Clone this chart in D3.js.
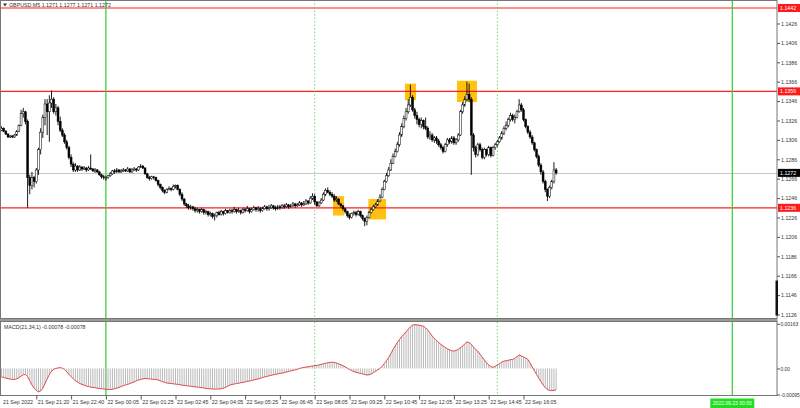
<!DOCTYPE html>
<html><head><meta charset="utf-8">
<script src="https://cdn.jsdelivr.net/npm/d3@7"></script>
<style>body{margin:0;background:#fff;} svg{display:block;}</style>
</head><body><svg id="c" width="800" height="408"></svg>
<script>
// ---- DATA (GBPUSD M5, 21 Sep 20:00 -> 22 Sep 17:15) ----
const opens = [
1.1316,1.1318,1.1315,1.1312,1.1309,1.1310,1.1309,1.1311,1.1315,1.1321,
1.1333,1.1335,1.1325,1.1267,1.1259,1.1267,1.1263,1.1275,1.1296,1.1314,
1.1329,1.1343,1.1335,1.1344,1.1348,1.1335,1.1339,1.1325,1.1316,1.1311,
1.1304,1.1298,1.1288,1.1281,1.1275,1.1279,1.1275,1.1278,1.1276,1.1277,
1.1275,1.1277,1.1276,1.1274,1.1275,1.1273,1.1270,1.1268,1.1267,1.1267,
1.1269,1.1271,1.1274,1.1273,1.1275,1.1273,1.1274,1.1275,1.1274,1.1276,
1.1273,1.1275,1.1276,1.1275,1.1278,1.1279,1.1277,1.1271,1.1267,1.1266,
1.1268,1.1267,1.1264,1.1260,1.1257,1.1254,1.1252,1.1255,1.1256,1.1255,
1.1258,1.1259,1.1255,1.1250,1.1245,1.1240,1.1238,1.1236,1.1237,1.1235,
1.1233,1.1234,1.1232,1.1234,1.1231,1.1232,1.1229,1.1230,1.1227,1.1228,
1.1231,1.1229,1.1232,1.1230,1.1233,1.1231,1.1233,1.1232,1.1234,1.1232,
1.1233,1.1231,1.1234,1.1233,1.1235,1.1232,1.1234,1.1236,1.1234,1.1235,
1.1233,1.1235,1.1237,1.1235,1.1236,1.1238,1.1236,1.1235,1.1237,1.1236,
1.1238,1.1237,1.1239,1.1237,1.1238,1.1240,1.1238,1.1239,1.1241,1.1239,
1.1240,1.1243,1.1241,1.1246,1.1248,1.1242,1.1238,1.1241,1.1244,1.1250,
1.1254,1.1252,1.1250,1.1248,1.1244,1.1245,1.1240,1.1238,1.1235,1.1232,
1.1228,1.1226,1.1230,1.1231,1.1229,1.1232,1.1228,1.1225,1.1222,1.1226,
1.1231,1.1234,1.1237,1.1239,1.1243,1.1247,1.1255,1.1263,1.1269,1.1275,
1.1282,1.1289,1.1294,1.1301,1.1311,1.1320,1.1328,1.1335,1.1342,1.1350,
1.1337,1.1331,1.1327,1.1322,1.1326,1.1320,1.1318,1.1309,1.1311,1.1306,
1.1308,1.1305,1.1301,1.1298,1.1294,1.1301,1.1306,1.1304,1.1308,1.1303,
1.1306,1.1311,1.1335,1.1342,1.1348,1.1353,1.1348,1.1311,1.1298,1.1291,
1.1301,1.1296,1.1288,1.1296,1.1291,1.1298,1.1290,1.1298,1.1301,1.1304,
1.1308,1.1313,1.1318,1.1321,1.1327,1.1331,1.1327,1.1329,1.1335,1.1342,
1.1337,1.1327,1.1320,1.1314,1.1309,1.1303,1.1296,1.1289,1.1280,1.1273,
1.1263,1.1255,1.1248,1.1257,1.1263,1.1275];
const highs = [
1.1320,1.1319,1.1316,1.1313,1.1311,1.1311,1.1312,1.1316,1.1322,1.1337,
1.1339,1.1336,1.1327,1.1270,1.1273,1.1269,1.1277,1.1298,1.1318,1.1332,
1.1348,1.1348,1.1352,1.1357,1.1350,1.1343,1.1341,1.1330,1.1318,1.1313,
1.1306,1.1300,1.1291,1.1283,1.1282,1.1280,1.1280,1.1279,1.1279,1.1278,
1.1279,1.1291,1.1277,1.1277,1.1276,1.1274,1.1271,1.1270,1.1269,1.1270,
1.1273,1.1275,1.1276,1.1277,1.1276,1.1276,1.1277,1.1276,1.1278,1.1277,
1.1277,1.1278,1.1277,1.1279,1.1281,1.1280,1.1278,1.1272,1.1269,1.1269,
1.1269,1.1268,1.1265,1.1261,1.1258,1.1255,1.1256,1.1258,1.1257,1.1260,
1.1260,1.1260,1.1256,1.1252,1.1246,1.1241,1.1240,1.1239,1.1238,1.1237,
1.1236,1.1235,1.1236,1.1235,1.1234,1.1233,1.1232,1.1231,1.1230,1.1232,
1.1233,1.1234,1.1233,1.1235,1.1234,1.1235,1.1235,1.1237,1.1235,1.1236,
1.1234,1.1236,1.1236,1.1238,1.1236,1.1236,1.1238,1.1237,1.1238,1.1237,
1.1237,1.1239,1.1238,1.1239,1.1240,1.1239,1.1238,1.1239,1.1239,1.1240,
1.1240,1.1241,1.1240,1.1240,1.1242,1.1241,1.1241,1.1243,1.1242,1.1243,
1.1245,1.1244,1.1248,1.1251,1.1250,1.1243,1.1243,1.1246,1.1252,1.1256,
1.1257,1.1254,1.1252,1.1250,1.1248,1.1246,1.1241,1.1239,1.1236,1.1233,
1.1230,1.1231,1.1233,1.1233,1.1234,1.1233,1.1229,1.1226,1.1228,1.1233,
1.1236,1.1239,1.1241,1.1245,1.1250,1.1257,1.1265,1.1272,1.1278,1.1286,
1.1292,1.1297,1.1304,1.1314,1.1323,1.1331,1.1339,1.1348,1.1363,1.1352,
1.1339,1.1335,1.1329,1.1329,1.1327,1.1329,1.1320,1.1315,1.1313,1.1310,
1.1310,1.1307,1.1303,1.1300,1.1303,1.1308,1.1308,1.1310,1.1310,1.1308,
1.1313,1.1337,1.1345,1.1351,1.1366,1.1364,1.1350,1.1313,1.1300,1.1303,
1.1303,1.1298,1.1298,1.1297,1.1300,1.1299,1.1300,1.1303,1.1306,1.1310,
1.1315,1.1320,1.1325,1.1329,1.1334,1.1333,1.1332,1.1337,1.1348,1.1344,
1.1339,1.1328,1.1321,1.1316,1.1311,1.1304,1.1297,1.1291,1.1282,1.1275,
1.1265,1.1256,1.1259,1.1265,1.1283,1.1277];
const lows = [
1.1315,1.1314,1.1311,1.1308,1.1308,1.1308,1.1308,1.1310,1.1314,1.1320,
1.1329,1.1322,1.1236,1.1250,1.1255,1.1257,1.1261,1.1270,1.1291,1.1308,
1.1321,1.1311,1.1304,1.1339,1.1333,1.1331,1.1321,1.1314,1.1309,1.1302,
1.1296,1.1286,1.1278,1.1273,1.1273,1.1273,1.1274,1.1274,1.1275,1.1273,
1.1274,1.1275,1.1273,1.1272,1.1272,1.1269,1.1266,1.1265,1.1264,1.1266,
1.1268,1.1270,1.1271,1.1272,1.1272,1.1272,1.1273,1.1273,1.1273,1.1272,
1.1272,1.1274,1.1273,1.1274,1.1277,1.1276,1.1270,1.1266,1.1264,1.1265,
1.1265,1.1263,1.1258,1.1255,1.1252,1.1250,1.1251,1.1254,1.1253,1.1254,
1.1256,1.1254,1.1248,1.1243,1.1238,1.1236,1.1234,1.1234,1.1233,1.1231,
1.1231,1.1230,1.1231,1.1229,1.1229,1.1227,1.1227,1.1225,1.1223,1.1226,
1.1228,1.1228,1.1228,1.1229,1.1230,1.1230,1.1230,1.1231,1.1230,1.1231,
1.1229,1.1230,1.1231,1.1232,1.1230,1.1231,1.1233,1.1232,1.1232,1.1231,
1.1232,1.1234,1.1233,1.1233,1.1235,1.1234,1.1233,1.1234,1.1234,1.1235,
1.1235,1.1236,1.1235,1.1236,1.1237,1.1236,1.1237,1.1238,1.1237,1.1238,
1.1239,1.1239,1.1240,1.1244,1.1239,1.1237,1.1237,1.1240,1.1243,1.1248,
1.1251,1.1248,1.1246,1.1242,1.1242,1.1239,1.1236,1.1233,1.1230,1.1226,
1.1224,1.1225,1.1228,1.1227,1.1228,1.1226,1.1223,1.1217,1.1218,1.1225,
1.1230,1.1233,1.1236,1.1238,1.1242,1.1246,1.1254,1.1262,1.1268,1.1274,
1.1281,1.1288,1.1293,1.1299,1.1309,1.1318,1.1326,1.1333,1.1340,1.1335,
1.1328,1.1322,1.1319,1.1318,1.1317,1.1316,1.1307,1.1306,1.1304,1.1303,
1.1302,1.1299,1.1296,1.1292,1.1293,1.1299,1.1302,1.1302,1.1301,1.1301,
1.1304,1.1310,1.1333,1.1340,1.1346,1.1345,1.1270,1.1294,1.1288,1.1289,
1.1294,1.1286,1.1286,1.1289,1.1289,1.1288,1.1289,1.1296,1.1299,1.1303,
1.1306,1.1311,1.1316,1.1319,1.1325,1.1325,1.1323,1.1328,1.1334,1.1335,
1.1325,1.1318,1.1312,1.1307,1.1301,1.1294,1.1287,1.1278,1.1270,1.1261,
1.1252,1.1243,1.1246,1.1255,1.1261,1.1270];
const closes = [
1.1318,1.1315,1.1312,1.1309,1.1310,1.1309,1.1311,1.1315,1.1321,1.1333,
1.1335,1.1325,1.1267,1.1259,1.1267,1.1263,1.1275,1.1296,1.1314,1.1329,
1.1343,1.1335,1.1344,1.1348,1.1335,1.1339,1.1325,1.1316,1.1311,1.1304,
1.1298,1.1288,1.1281,1.1275,1.1279,1.1275,1.1278,1.1276,1.1277,1.1275,
1.1277,1.1276,1.1274,1.1275,1.1273,1.1270,1.1268,1.1267,1.1267,1.1269,
1.1271,1.1274,1.1273,1.1275,1.1273,1.1274,1.1275,1.1274,1.1276,1.1273,
1.1275,1.1276,1.1275,1.1278,1.1279,1.1277,1.1271,1.1267,1.1266,1.1268,
1.1267,1.1264,1.1260,1.1257,1.1254,1.1252,1.1255,1.1256,1.1255,1.1258,
1.1259,1.1255,1.1250,1.1245,1.1240,1.1238,1.1236,1.1237,1.1235,1.1233,
1.1234,1.1232,1.1234,1.1231,1.1232,1.1229,1.1230,1.1227,1.1228,1.1231,
1.1229,1.1232,1.1230,1.1233,1.1231,1.1233,1.1232,1.1234,1.1232,1.1233,
1.1231,1.1234,1.1233,1.1235,1.1232,1.1234,1.1236,1.1234,1.1235,1.1233,
1.1235,1.1237,1.1235,1.1236,1.1238,1.1236,1.1235,1.1237,1.1236,1.1238,
1.1237,1.1239,1.1237,1.1238,1.1240,1.1238,1.1239,1.1241,1.1239,1.1240,
1.1243,1.1241,1.1246,1.1248,1.1242,1.1238,1.1241,1.1244,1.1250,1.1254,
1.1252,1.1250,1.1248,1.1244,1.1245,1.1240,1.1238,1.1235,1.1232,1.1228,
1.1226,1.1230,1.1231,1.1229,1.1232,1.1228,1.1225,1.1222,1.1226,1.1231,
1.1234,1.1237,1.1239,1.1243,1.1247,1.1255,1.1263,1.1269,1.1275,1.1282,
1.1289,1.1294,1.1301,1.1311,1.1320,1.1328,1.1335,1.1342,1.1350,1.1337,
1.1331,1.1327,1.1322,1.1326,1.1320,1.1318,1.1309,1.1311,1.1306,1.1308,
1.1305,1.1301,1.1298,1.1294,1.1301,1.1306,1.1304,1.1308,1.1303,1.1306,
1.1311,1.1335,1.1342,1.1348,1.1353,1.1348,1.1311,1.1298,1.1291,1.1301,
1.1296,1.1288,1.1296,1.1291,1.1298,1.1290,1.1298,1.1301,1.1304,1.1308,
1.1313,1.1318,1.1321,1.1327,1.1331,1.1327,1.1329,1.1335,1.1342,1.1337,
1.1327,1.1320,1.1314,1.1309,1.1303,1.1296,1.1289,1.1280,1.1273,1.1263,
1.1255,1.1248,1.1257,1.1263,1.1275,1.1272];
const macdValues = [
-0.00031,-0.00033,-0.00035,-0.00037,-0.00039,-0.00040,-0.00040,-0.00038,-0.00034,-0.00028,
-0.00023,-0.00022,-0.00030,-0.00045,-0.00060,-0.00072,-0.00080,-0.00085,-0.00082,-0.00072,
-0.00055,-0.00038,-0.00022,-0.00010,-0.00003,0.00000,0.00002,0.00003,0.00001,-0.00004,
-0.00012,-0.00022,-0.00030,-0.00038,-0.00045,-0.00050,-0.00055,-0.00058,-0.00061,-0.00064,
-0.00066,-0.00068,-0.00069,-0.00070,-0.00072,-0.00073,-0.00074,-0.00075,-0.00076,-0.00077,
-0.00077,-0.00076,-0.00074,-0.00072,-0.00069,-0.00066,-0.00063,-0.00060,-0.00058,-0.00055,
-0.00052,-0.00049,-0.00045,-0.00042,-0.00040,-0.00038,-0.00037,-0.00037,-0.00038,-0.00039,
-0.00040,-0.00040,-0.00042,-0.00045,-0.00048,-0.00051,-0.00053,-0.00054,-0.00055,-0.00056,
-0.00057,-0.00058,-0.00059,-0.00061,-0.00062,-0.00063,-0.00064,-0.00065,-0.00066,-0.00067,
-0.00068,-0.00069,-0.00070,-0.00071,-0.00073,-0.00074,-0.00074,-0.00075,-0.00075,-0.00075,
-0.00075,-0.00074,-0.00072,-0.00069,-0.00065,-0.00061,-0.00058,-0.00057,-0.00055,-0.00054,
-0.00052,-0.00051,-0.00049,-0.00047,-0.00046,-0.00044,-0.00042,-0.00040,-0.00038,-0.00036,
-0.00033,-0.00031,-0.00029,-0.00027,-0.00025,-0.00023,-0.00021,-0.00020,-0.00018,-0.00017,
-0.00015,-0.00013,-0.00011,-0.00009,-0.00007,-0.00005,-0.00003,0.00000,0.00002,0.00004,
0.00005,0.00006,0.00008,0.00009,0.00010,0.00011,0.00013,0.00015,0.00017,0.00019,
0.00021,0.00022,0.00023,0.00022,0.00020,0.00017,0.00014,0.00010,0.00006,0.00001,
-0.00004,-0.00008,-0.00011,-0.00014,-0.00016,-0.00018,-0.00020,-0.00022,-0.00024,-0.00023,
-0.00020,-0.00015,-0.00010,-0.00005,0.00000,0.00008,0.00018,0.00028,0.00040,0.00054,
0.00069,0.00082,0.00095,0.00106,0.00116,0.00124,0.00134,0.00143,0.00152,0.00158,
0.00160,0.00159,0.00158,0.00156,0.00154,0.00148,0.00140,0.00130,0.00118,0.00110,
0.00102,0.00095,0.00088,0.00082,0.00077,0.00072,0.00068,0.00065,0.00063,0.00066,
0.00070,0.00076,0.00082,0.00090,0.00097,0.00094,0.00088,0.00078,0.00070,0.00063,
0.00052,0.00042,0.00031,0.00021,0.00013,0.00007,0.00004,0.00008,0.00013,0.00018,
0.00023,0.00027,0.00028,0.00030,0.00032,0.00033,0.00037,0.00043,0.00049,0.00046,
0.00042,0.00038,0.00033,0.00020,0.00006,-0.00008,-0.00022,-0.00035,-0.00048,-0.00060,
-0.00070,-0.00077,-0.00080,-0.00081,-0.00080,-0.00078];
const timeTickBars = [0,16,32,48,64,80,96,112,128,144,160,176,192,208,224,240];
const timeLabels = ["21 Sep 2022","21 Sep 21:20","21 Sep 22:40","22 Sep 00:05","22 Sep 01:25",
  "22 Sep 02:45","22 Sep 04:05","22 Sep 05:25","22 Sep 06:45","22 Sep 08:05","22 Sep 09:25",
  "22 Sep 10:45","22 Sep 12:05","22 Sep 13:25","22 Sep 14:45","22 Sep 16:05"];
const priceTicks = [1.1426,1.1406,1.1386,1.1366,1.1346,1.1326,1.1306,1.1286,1.1266,1.1246,1.1226,1.1206,1.1186,1.1166,1.1146,1.1126];
const levelPrices = [1.1442,1.1356,1.1236];
const bidPrice = 1.1272;
const macdTicks = [0.00163,0,-0.00095];
const macdTickLabels = ["0.00163","0.00","-0.00095"];
const daySeparatorBars = [48,336];
const sessionBars = [144,228];
const dayLabel = "2022.09.23 00:00";
// highlighted zones: [bar from, bar to, price top, price bottom]
const zones = [[152.4,157.5,1.1248,1.1228],[168.7,176.8,1.1245,1.1224],[185.5,190.6,1.1364,1.1347],[209.4,218.6,1.1367,1.1345]];
const titleText = "GBPUSD,M5  1.1271 1.1277 1.1271 1.1272";
const macdTitle = "MACD(21,34,1) -0.00078 -0.00078";

// ---- DRAWING ----
const svg = d3.select("#c");
const FONT = "'Liberation Sans', Arial, sans-serif";
const FS = 5.3;
const R = 777;           // right edge of plot panels
const mainTop = 0.5, mainBot = 318.5, macdTop = 321.5, macdBot = 395.5;

const x = d3.scaleLinear().domain([0,336]).range([1.5,732.3]);
const y = d3.scaleLinear().domain([1.1126,1.1426]).range([314.5,23.5]);
const ym = d3.scaleLinear().domain([-0.00095,0.00163]).range([394.5,323.8]);

svg.append("rect").attr("width",800).attr("height",408).attr("fill","#fff");

const defs = svg.append("defs");
defs.append("clipPath").attr("id","cm").append("rect").attr("x",0).attr("y",mainTop).attr("width",R).attr("height",mainBot-mainTop);
defs.append("clipPath").attr("id","cd").append("rect").attr("x",0).attr("y",macdTop).attr("width",R).attr("height",macdBot-macdTop);

const gm = svg.append("g").attr("clip-path","url(#cm)");
const gd = svg.append("g").attr("clip-path","url(#cd)");

// zones
gm.selectAll("rect.zone").data(zones).join("rect").attr("class","zone")
  .attr("x",d=>x(d[0])).attr("width",d=>x(d[1])-x(d[0]))
  .attr("y",d=>y(d[2])).attr("height",d=>y(d[3])-y(d[2]))
  .attr("fill","#ffc20e");

// bid line
gm.append("line").attr("x1",0).attr("x2",R).attr("y1",Math.round(y(bidPrice))+0.5).attr("y2",Math.round(y(bidPrice))+0.5)
  .attr("stroke","#c8c8c8").attr("stroke-width",1);

// level lines
gm.selectAll("line.lvl").data(levelPrices).join("line").attr("class","lvl")
  .attr("x1",0).attr("x2",R).attr("y1",d=>y(d)).attr("y2",d=>y(d))
  .attr("stroke","#ff2020").attr("stroke-width",1.2);

// vertical separators (both panels)
[gm,gd].forEach(g=>{
  g.selectAll("line.day").data(daySeparatorBars).join("line").attr("class","day")
    .attr("x1",d=>x(d)).attr("x2",d=>x(d)).attr("y1",0).attr("y2",400)
    .attr("stroke","#33cc33").attr("stroke-width",1.2);
  g.selectAll("line.sess").data(sessionBars).join("line").attr("class","sess")
    .attr("x1",d=>x(d)).attr("x2",d=>x(d)).attr("y1",0).attr("y2",400)
    .attr("stroke","#55cc55").attr("stroke-width",0.8).attr("stroke-dasharray","1.5,2");
});

// candles
const idx = d3.range(closes.length);
gm.selectAll("line.wick").data(idx).join("line").attr("class","wick")
  .attr("x1",i=>x(i)).attr("x2",i=>x(i)).attr("y1",i=>y(highs[i])).attr("y2",i=>y(lows[i]))
  .attr("stroke","#000").attr("stroke-width",0.9);
gm.selectAll("rect.body").data(idx).join("rect").attr("class","body")
  .attr("x",i=>x(i)-0.95).attr("width",1.9)
  .attr("y",i=>y(Math.max(opens[i],closes[i])))
  .attr("height",i=>Math.max(0.7,Math.abs(y(opens[i])-y(closes[i]))))
  .attr("fill",i=>closes[i]>=opens[i]?"#fff":"#000")
  .attr("stroke","#000").attr("stroke-width",0.5);

// MACD histogram + signal
gd.selectAll("line.hist").data(idx).join("line").attr("class","hist")
  .attr("x1",i=>x(i)).attr("x2",i=>x(i)).attr("y1",ym(0)).attr("y2",i=>ym(macdValues[i]))
  .attr("stroke","#b8b8b8").attr("stroke-width",1);
gd.append("path").datum(idx)
  .attr("d",d3.line().x(i=>x(i)).y(i=>ym(macdValues[i])))
  .attr("fill","none").attr("stroke","#e04848").attr("stroke-width",1);

// frames
svg.append("rect").attr("x",0.5).attr("y",mainTop).attr("width",R-0.5).attr("height",mainBot-mainTop)
  .attr("fill","none").attr("stroke","#777").attr("stroke-width",1);
svg.append("rect").attr("x",0).attr("y",mainBot+0.5).attr("width",R+0.5).attr("height",3).attr("fill","#9a9a9a");
svg.append("rect").attr("x",0.5).attr("y",macdTop).attr("width",R-0.5).attr("height",macdBot-macdTop)
  .attr("fill","none").attr("stroke","#777").attr("stroke-width",1);

// price axis
const ga = svg.append("g").attr("transform",`translate(${R},0)`)
  .call(d3.axisRight(y).tickValues(priceTicks).tickFormat(d3.format(".4f")).tickSize(3).tickPadding(1));
ga.select(".domain").remove();
ga.attr("font-family",FONT).attr("font-size",FS);
ga.selectAll("text").attr("fill","#333");
ga.selectAll("line").attr("stroke","#555");

// level labels
const lv = svg.selectAll("g.lvlab").data(levelPrices).join("g").attr("class","lvlab")
  .attr("transform",d=>`translate(${R+1},${Math.max(5.5,y(d))})`);
lv.append("rect").attr("x",0).attr("y",-4).attr("width",22).attr("height",8).attr("fill","#ff1a1a");
lv.append("text").attr("x",2).attr("y",0).attr("dy","0.35em").text(d=>d3.format(".4f")(d))
  .attr("font-family",FONT).attr("font-size",FS).attr("fill","#fff");
const bl = svg.append("g").attr("transform",`translate(${R+1},${y(bidPrice)})`);
bl.append("rect").attr("x",0).attr("y",-4).attr("width",22).attr("height",8).attr("fill","#000");
bl.append("text").attr("x",2).attr("dy","0.35em").text(d3.format(".4f")(bidPrice))
  .attr("font-family",FONT).attr("font-size",FS).attr("fill","#fff");

// scroll marker at right edge
svg.append("rect").attr("x",R-1.5).attr("y",y(1.1161)).attr("width",2.5).attr("height",y(1.1125)-y(1.1161)).attr("fill","#111");

// MACD axis
const gma = svg.append("g").attr("transform",`translate(${R},0)`)
  .call(d3.axisRight(ym).tickValues(macdTicks).tickFormat((d,i)=>macdTickLabels[i]).tickSize(3).tickPadding(0.5));
gma.select(".domain").remove();
gma.attr("font-family",FONT).attr("font-size",4.9);
gma.selectAll("text").attr("fill","#333");
gma.selectAll("line").attr("stroke","#555");

// time axis
const gt = svg.append("g").attr("transform",`translate(0,${macdBot})`)
  .call(d3.axisBottom(x).tickValues(timeTickBars).tickFormat((d,i)=>timeLabels[i]).tickSize(4).tickPadding(1));
gt.select(".domain").remove();
gt.attr("font-family",FONT).attr("font-size",FS);
gt.selectAll("text").attr("text-anchor","start").attr("dx",1).attr("y",5).attr("dy","0.71em").attr("fill","#333");
gt.selectAll("line").attr("stroke","#555").attr("opacity",(d,i)=>i===0?0:1);

// day label on time axis
const dl = svg.append("g").attr("transform",`translate(${x(daySeparatorBars[1])},${macdBot+3})`);
dl.append("rect").attr("x",-22).attr("y",0).attr("width",44).attr("height",9.5).attr("fill","#22dd22");
dl.append("text").attr("x",0).attr("y",5).attr("dy","0.35em").attr("text-anchor","middle").text(dayLabel)
  .attr("font-family",FONT).attr("font-size",FS-0.3).attr("fill","#fff");

// titles
svg.append("path").attr("d","M3,3.5 L7,3.5 L5,6.5 Z").attr("fill","#333");
svg.append("text").attr("x",9).attr("y",5).attr("dy","0.35em").text(titleText)
  .attr("font-family",FONT).attr("font-size",FS).attr("fill","#333");
svg.append("text").attr("x",4).attr("y",macdTop+5.5).attr("dy","0.35em").text(macdTitle)
  .attr("font-family",FONT).attr("font-size",FS).attr("fill","#333");
</script></body></html>
